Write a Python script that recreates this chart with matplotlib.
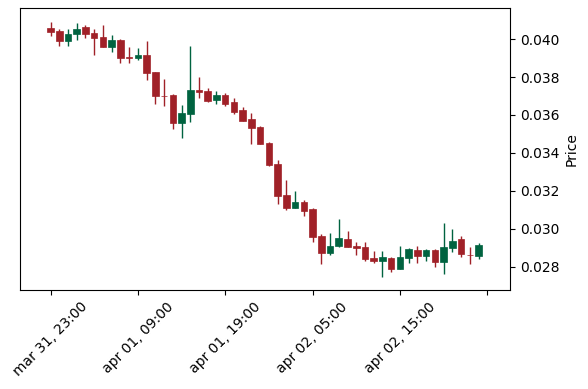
import numpy as np
import pandas as pd
import matplotlib
matplotlib.use("Agg")
import matplotlib.pyplot as plt

# hourly candles
start = "2023-03-31 23:00"
opens = [0.04060, 0.04044, 0.03991, 0.04025, 0.04063, 0.04030, 0.04011, 0.03959, 0.03998, 0.03905,
         0.03901, 0.03916, 0.03826, 0.03700, 0.03706, 0.03559, 0.03605, 0.03733, 0.03728, 0.03677,
         0.03705, 0.03668, 0.03626, 0.03578, 0.03536, 0.03453, 0.03343, 0.03178, 0.03111, 0.03142,
         0.03102, 0.02963, 0.02870, 0.02911, 0.02944, 0.02909, 0.02902, 0.02844, 0.02831, 0.02844,
         0.02788, 0.02846, 0.02888, 0.02857, 0.02888, 0.02823, 0.02897, 0.02947, 0.02864, 0.02856]
highs = [0.04088, 0.04053, 0.04051, 0.04083, 0.04077, 0.04056, 0.04074, 0.04021, 0.04000, 0.03959,
         0.03954, 0.03989, 0.03828, 0.03788, 0.03710, 0.03652, 0.03965, 0.03801, 0.03740, 0.03724,
         0.03717, 0.03687, 0.03640, 0.03608, 0.03541, 0.03457, 0.03362, 0.03257, 0.03197, 0.03151,
         0.03108, 0.02972, 0.02976, 0.03050, 0.02990, 0.02928, 0.02928, 0.02882, 0.02882, 0.02852,
         0.02909, 0.02897, 0.02909, 0.02893, 0.02893, 0.03029, 0.03000, 0.02962, 0.02905, 0.02925]
lows = [0.04017, 0.03965, 0.03963, 0.03995, 0.04004, 0.03916, 0.03956, 0.03930, 0.03872, 0.03872,
        0.03889, 0.03784, 0.03656, 0.03647, 0.03524, 0.03477, 0.03561, 0.03691, 0.03666, 0.03659,
        0.03648, 0.03606, 0.03566, 0.03445, 0.03445, 0.03329, 0.03129, 0.03099, 0.03111, 0.03067,
        0.02931, 0.02814, 0.02860, 0.02902, 0.02902, 0.02861, 0.02830, 0.02821, 0.02747, 0.02773,
        0.02788, 0.02818, 0.02821, 0.02831, 0.02797, 0.02760, 0.02879, 0.02849, 0.02814, 0.02842]
closes = [0.04038, 0.03991, 0.04026, 0.04056, 0.04025, 0.04007, 0.03958, 0.03996, 0.03901, 0.03903,
          0.03916, 0.03824, 0.03701, 0.03698, 0.03559, 0.03611, 0.03731, 0.03722, 0.03675, 0.03706,
          0.03657, 0.03615, 0.03569, 0.03532, 0.03448, 0.03337, 0.03174, 0.03111, 0.03141, 0.03093,
          0.02958, 0.02870, 0.02909, 0.02949, 0.02905, 0.02900, 0.02839, 0.02830, 0.02851, 0.02788,
          0.02849, 0.02891, 0.02856, 0.02888, 0.02825, 0.02902, 0.02935, 0.02865, 0.02861, 0.02914]

up_color = "#006340"
down_color = "#A02128"

o = np.array(opens)
h = np.array(highs)
l = np.array(lows)
c = np.array(closes)
n = len(o)
x = np.arange(n)
dates = pd.date_range(start, periods=n, freq="h")
colors = [up_color if cc >= oo else down_color for oo, cc in zip(o, c)]

fig = plt.figure(figsize=(5.88, 3.89), dpi=100)
ax = fig.add_axes([0.0332, 0.2545, 0.8341, 0.7245])

ax.vlines(x, l, h, colors=colors, linewidth=1.0, zorder=1)
body = np.abs(c - o)
body = np.maximum(body, 0.00002)
ax.bar(x, body, bottom=np.minimum(o, c), width=0.75, color=colors,
       edgecolor=colors, linewidth=0.5, zorder=2)

ax.set_xlim(-3.55, 52.6)
ax.set_ylim(0.026768, 0.041634)

ticks = np.arange(0, n + 1, 10)
labels = [dates[t].strftime("%b %d, %H:%M").lower() if t < n else "" for t in ticks]
ax.set_xticks(ticks)
ax.set_xticklabels(labels, rotation=45)

ax.yaxis.tick_right()
ax.yaxis.set_label_position("right")
ax.set_yticks(np.arange(0.028, 0.0401, 0.002))
ax.yaxis.set_major_formatter(matplotlib.ticker.FormatStrFormatter("%.3f"))
ax.set_ylabel("Price")

fig.savefig("out.png", dpi=100)
